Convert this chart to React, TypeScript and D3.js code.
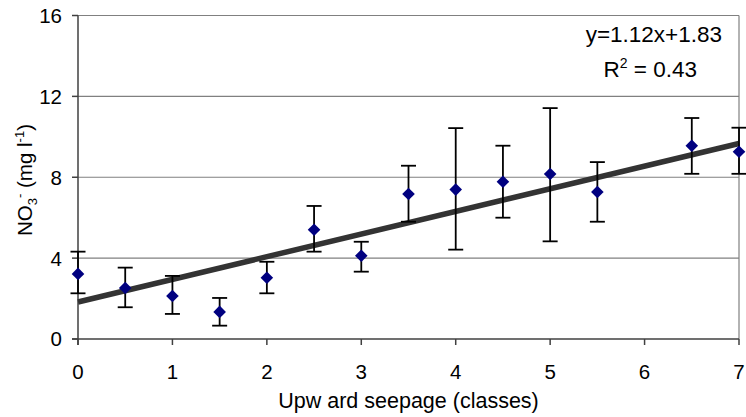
import React from "react";
import * as d3 from "d3";

// Upward seepage classes and nitrate concentrations (mean, upper, lower)
const seepageClasses = [0, 0.5, 1, 1.5, 2, 2.5, 3, 3.5, 4, 4.5, 5, 5.5, 6.5, 7];
const nitrateMean = [3.22, 2.52, 2.13, 1.34, 3.03, 5.4, 4.12, 7.17, 7.39, 7.78, 8.16, 7.27, 9.56, 9.26];
const nitrateUpper = [4.32, 3.53, 3.12, 2.03, 3.82, 6.58, 4.81, 8.57, 10.43, 9.56, 11.42, 8.75, 10.93, 10.45];
const nitrateLower = [2.26, 1.57, 1.24, 0.66, 2.26, 4.32, 3.33, 5.8, 4.42, 6.0, 4.83, 5.8, 8.17, 8.17];

const xTicks = [0, 1, 2, 3, 4, 5, 6, 7];
const yTicks = [0, 4, 8, 12, 16];
const gridValues = [4, 8, 12, 16];

const slope = 1.12;
const intercept = 1.83;
const rSquared = 0.43;

const W = 746;
const H = 417;
const FONT = "'Liberation Sans', Arial, sans-serif";

export default function App() {
  const x = d3.scaleLinear().domain([0, 7]).range([78, 739]);
  const y = d3.scaleLinear().domain([0, 16]).range([339, 15.5]);

  const points = seepageClasses.map((c, i) => ({
    c,
    m: nitrateMean[i],
    hi: nitrateUpper[i],
    lo: nitrateLower[i],
  }));

  const trend = d3
    .line<number>()
    .x((d) => x(d))
    .y((d) => y(slope * d + intercept));

  // square diamond marker
  const r = 6.3;
  const diamond = `M0,${-r}L${r},0L0,${r}L${-r},0Z`;
  const capHalf = 7.5;

  return (
    <div style={{ position: "absolute", left: 0, top: 0 }}>
      <svg width={W} height={H} style={{ display: "block", background: "#fff" }}>
        {/* gridlines */}
        {gridValues.map((v) => (
          <line key={v} x1={x(0)} x2={x(7)} y1={y(v)} y2={y(v)} stroke="#808080" strokeWidth={1.2} />
        ))}
        {/* right border */}
        <line x1={x(7)} x2={x(7)} y1={y(16)} y2={y(0)} stroke="#808080" strokeWidth={1.2} />

        {/* axes */}
        <line x1={x(0)} x2={x(0)} y1={y(16)} y2={y(0) + 6} stroke="#404040" strokeWidth={1.5} />
        <line x1={x(0) - 6} x2={x(7)} y1={y(0)} y2={y(0)} stroke="#404040" strokeWidth={1.5} />
        {yTicks.map((v) => (
          <line key={v} x1={x(0) - 6} x2={x(0)} y1={y(v)} y2={y(v)} stroke="#404040" strokeWidth={1.5} />
        ))}
        {xTicks.map((v) => (
          <line key={v} x1={x(v)} x2={x(v)} y1={y(0)} y2={y(0) + 6} stroke="#404040" strokeWidth={1.5} />
        ))}

        {/* tick labels */}
        {yTicks.map((v) => (
          <text key={v} x={62} y={y(v)} dy="0.36em" textAnchor="end" fontFamily={FONT} fontSize={20.5} fill="#000">
            {v}
          </text>
        ))}
        {xTicks.map((v) => (
          <text key={v} x={x(v)} y={378.5} textAnchor="middle" fontFamily={FONT} fontSize={20.5} fill="#000">
            {v}
          </text>
        ))}

        {/* axis titles */}
        <text x={408.5} y={408} textAnchor="middle" fontFamily={FONT} fontSize={21.5} fill="#000">
          Upw ard seepage (classes)
        </text>
        <text
          transform="translate(32,180) rotate(-90)"
          textAnchor="middle"
          fontFamily={FONT}
          fontSize={20.5}
          fill="#000"
        >
          NO
          <tspan fontSize={13} dy={5}>3</tspan>
          <tspan fontSize={13} dy={-13}>-</tspan>
          <tspan dy={8}> (mg l</tspan>
          <tspan fontSize={13} dy={-8}>-1</tspan>
          <tspan dy={8}>)</tspan>
        </text>

        {/* regression line */}
        <path d={trend([0, 7]) ?? ""} fill="none" stroke="#333333" strokeWidth={5.5} />

        {/* error bars */}
        {points.map((p) => (
          <g key={p.c} stroke="#000" strokeWidth={1.8}>
            <line x1={x(p.c)} x2={x(p.c)} y1={y(p.hi)} y2={y(p.lo)} />
            <line x1={x(p.c) - capHalf} x2={x(p.c) + capHalf} y1={y(p.hi)} y2={y(p.hi)} />
            <line x1={x(p.c) - capHalf} x2={x(p.c) + capHalf} y1={y(p.lo)} y2={y(p.lo)} />
          </g>
        ))}

        {/* means */}
        {points.map((p) => (
          <path key={p.c} d={diamond} transform={`translate(${x(p.c)},${y(p.m)})`} fill="#000080" />
        ))}

        {/* regression equation */}
        <text x={722} y={42} textAnchor="end" fontFamily={FONT} fontSize={22.5} fill="#000">
          {`y=${slope}x+${intercept}`}
        </text>
        <text x={697} y={77} textAnchor="end" fontFamily={FONT} fontSize={22.5} fill="#000">
          R<tspan fontSize={14} dy={-9}>2</tspan>
          <tspan dy={9}>{` = ${rSquared}`}</tspan>
        </text>
      </svg>
    </div>
  );
}
